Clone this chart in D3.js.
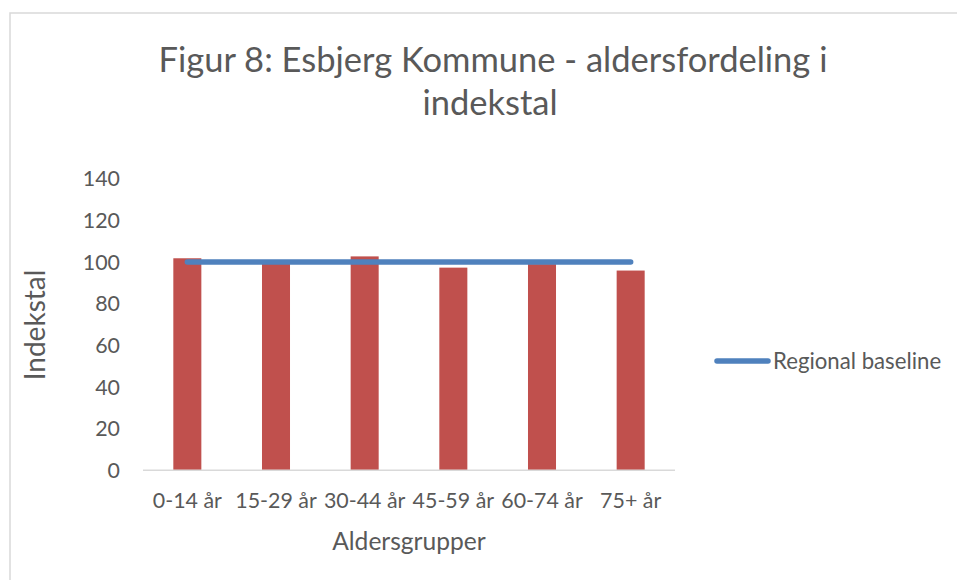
<!DOCTYPE html>
<meta charset="utf-8">
<style>
body { margin: 0; background: #fff; }
text { font-family: Lato, "Open Sans", sans-serif; fill: #595959; }
</style>
<body>
<script src="https://d3js.org/d3.v7.min.js"></script>
<script>

var width = 957,
    height = 580;

// data
var groups = ["0-14 år", "15-29 år", "30-44 år", "45-59 år", "60-74 år", "75+ år"];
var indexValues = [101.8, 99.5, 102.7, 97.3, 99.0, 95.9];
var baseline = [100, 100, 100, 100, 100, 100];
var yTicks = [0, 20, 40, 60, 80, 100, 120, 140];

var svg = d3.select("body").append("svg")
    .attr("width", width)
    .attr("height", height);

// chart frame
svg.append("rect")
    .attr("x", 10)
    .attr("y", 13)
    .attr("width", 960)
    .attr("height", 600)
    .attr("fill", "none")
    .attr("stroke", "#d9d9d9")
    .attr("stroke-width", 1.5);

var x = d3.scaleBand()
    .domain(groups)
    .range([143, 675])
    .paddingInner(0.684)
    .paddingOuter(0.342);

var y = d3.scaleLinear()
    .domain([0, 140])
    .range([470.3, 178.7]);

// title
var title = svg.append("text")
    .attr("text-anchor", "middle")
    .style("font-size", "34.5px");
title.append("tspan").attr("x", 493).attr("y", 72).text("Figur 8: Esbjerg Kommune - aldersfordeling i");
title.append("tspan").attr("x", 490).attr("y", 115).text("indekstal");

// y axis labels
svg.append("g")
  .selectAll("text")
    .data(yTicks)
  .enter().append("text")
    .attr("x", 120)
    .attr("y", d => y(d))
    .attr("dy", "0.36em")
    .attr("text-anchor", "end")
    .style("font-size", "21.4px")
    .text(d => d);

// bars
svg.append("g")
  .selectAll("rect")
    .data(indexValues)
  .enter().append("rect")
    .attr("x", (d, i) => x(groups[i]))
    .attr("y", d => y(d))
    .attr("width", x.bandwidth())
    .attr("height", d => y(0) - y(d))
    .attr("fill", "#c0504d");

// x axis line
svg.append("line")
    .attr("x1", 143).attr("x2", 675)
    .attr("y1", y(0)).attr("y2", y(0))
    .attr("stroke", "#d9d9d9")
    .attr("stroke-width", 1.5);

// x labels
svg.append("g")
  .selectAll("text")
    .data(groups)
  .enter().append("text")
    .attr("x", d => x(d) + x.bandwidth() / 2)
    .attr("y", 508)
    .attr("text-anchor", "middle")
    .style("font-size", "21.4px")
    .text(d => d);

// baseline line
var line = d3.line()
    .x((d, i) => x(groups[i]) + x.bandwidth() / 2)
    .y(d => y(d));

svg.append("path")
    .datum(baseline)
    .attr("d", line)
    .attr("fill", "none")
    .attr("stroke", "#4f81bd")
    .attr("stroke-width", 5.5)
    .attr("stroke-linecap", "round");

// axis titles
svg.append("text")
    .attr("transform", "translate(45,325) rotate(-90)")
    .attr("text-anchor", "middle")
    .style("font-size", "28px")
    .text("Indekstal");

svg.append("text")
    .attr("x", 409)
    .attr("y", 550)
    .attr("text-anchor", "middle")
    .style("font-size", "24.6px")
    .text("Aldersgrupper");

// legend
svg.append("line")
    .attr("x1", 717).attr("x2", 768)
    .attr("y1", 361).attr("y2", 361)
    .attr("stroke", "#4f81bd")
    .attr("stroke-width", 5.5)
    .attr("stroke-linecap", "round");

svg.append("text")
    .attr("x", 773)
    .attr("y", 361)
    .attr("dy", "0.36em")
    .style("font-size", "22.2px")
    .text("Regional baseline");

</script>
